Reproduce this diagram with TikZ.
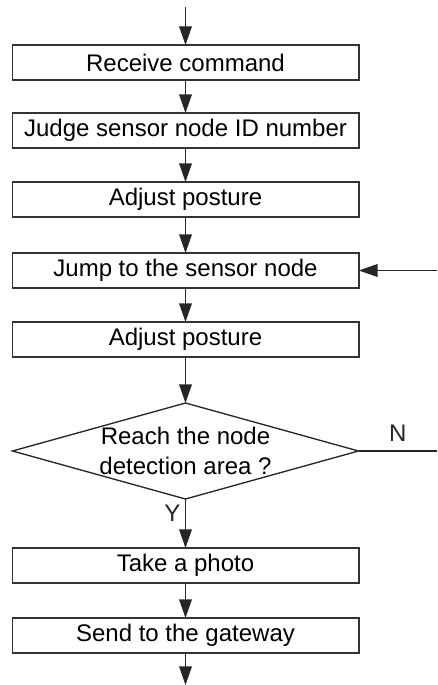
\documentclass[tikz,border=0pt]{standalone}
\usepackage{fontspec}
\setmainfont{Liberation Sans}
\usepackage{tikz}
\usetikzlibrary{positioning,arrows.meta,shapes.geometric}

\begin{document}
\begin{tikzpicture}[
  x=0.75pt, y=-0.75pt,
  font=\fontsize{18}{22.5}\selectfont,
  stepbox/.style={rectangle, draw=black!80, line width=1pt, minimum width=260pt, minimum height=26.25pt, inner sep=0pt, outer sep=0pt},
  decision/.style={diamond, draw=black!85, line width=1pt, minimum width=259.5pt, minimum height=72pt, inner sep=0pt, outer sep=0pt},
  arrow/.style={-{Triangle[length=14pt, width=9.5pt]}, line width=1pt, black!85}
  ]
  \useasboundingbox (0,0) rectangle (437,685);
  \node[stepbox] (recv) at (185.5,62.5) {Receive command};
  \node[stepbox, below=24.75pt of recv] (judge) {Judge sensor node ID number};
  \node[stepbox, below=25.5pt of judge] (adj1) {Adjust posture};
  \node[stepbox, below=27pt of adj1] (jump) {Jump to the sensor node};
  \node[stepbox, below=25.5pt of jump] (adj2) {Adjust posture};
  \node[decision, below=34.5pt of adj2] (dec) {};
  \node[align=center] (dectext) at (dec) {Reach the node\\detection area ?};
  \node[stepbox, below=36.75pt of dec] (photo) {Take a photo};
  \node[stepbox, below=26.25pt of photo] (send) {Send to the gateway};
  \coordinate (top) at (185.5,7);
  \coordinate (bot) at (185.5,685);
  \coordinate (nend) at (437,451);
  \coordinate (back) at (437,270.5);
  \draw[arrow] (top) -- (recv);
  \draw[arrow] (recv) -- (judge);
  \draw[arrow] (judge) -- (adj1);
  \draw[arrow] (adj1) -- (jump);
  \draw[arrow] (jump) -- (adj2);
  \draw[arrow] (adj2) -- (dec);
  \draw[arrow] (dec) -- (photo) node[pos=0.3, left] {Y};
  \draw[arrow] (photo) -- (send);
  \draw[arrow] (send) -- (bot);
  \draw[line width=1pt, black!85] (dec.east) -- (nend) node[midway, above=3pt] {N};
  \draw[arrow] (back) -- (jump);
\end{tikzpicture}
\end{document}
